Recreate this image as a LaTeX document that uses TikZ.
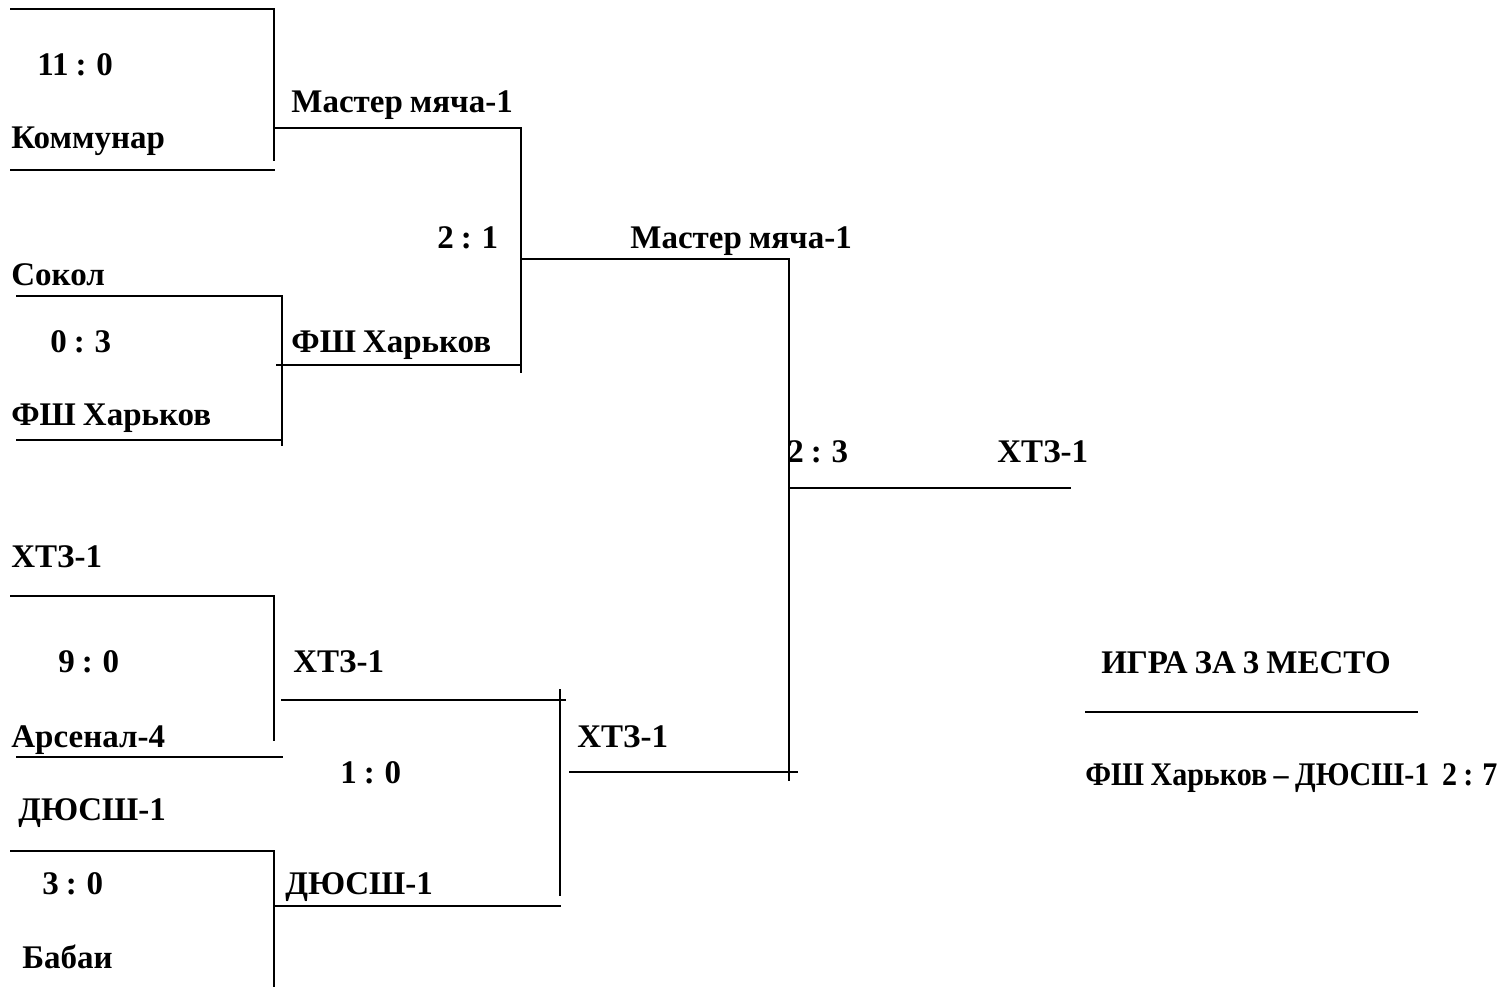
\documentclass[tikz,border=0pt]{standalone}
\usepackage{fontspec}
\setmainfont{Liberation Serif}[WordSpace=0.85]
\begin{document}
\begin{tikzpicture}[x=0.5pt,y=-0.5pt,
  ln/.style={line width=1.1pt, line cap=rect},
  lbl/.style={anchor=base west, inner sep=0pt, font=\fontsize{16.5}{19}\selectfont\bfseries}]
\useasboundingbox[fill=white] (0,0) rectangle (1504,986);
% --- top-left bracket
\draw[ln] (11,9) -- (274,9) -- (274,160);
\draw[ln] (11,170) -- (274,170);
\draw[ln] (274,128) -- (521,128) -- (521,372);
\node[lbl] (s1) at (37,75) {11 : 0};
\node[lbl] (t1) at (11,148) {Коммунар};
\node[lbl] (w1) at (291,112) {Мастер мяча-1};
% --- second bracket
\draw[ln] (17,296) -- (282,296) -- (282,445);
\draw[ln] (17,440) -- (282,440);
\draw[ln] (277,365) -- (521,365);
\node[lbl] (t2) at (11,285) {Сокол};
\node[lbl] (s2) at (50,352) {0 : 3};
\node[lbl] (t3) at (11,425) {ФШ Харьков};
\node[lbl] (w2) at (291,352) {ФШ Харьков};
\node[lbl] (s3) at (437,248) {2 : 1};
% --- semifinal upper
\draw[ln] (521,259) -- (789,259) -- (789,780);
\node[lbl] (w3) at (630,248) {Мастер мяча-1};
% --- final
\draw[ln] (789,488) -- (1070,488);
\node[lbl] (s4) at (787,462) {2 : 3};
\node[lbl] (w4) at (997,462) {ХТЗ-1};
% --- lower brackets
\draw[ln] (11,596) -- (274,596) -- (274,740);
\draw[ln] (17,757) -- (282,757);
\node[lbl] (t4) at (11,567) {ХТЗ-1};
\node[lbl] (s5) at (58,672) {9 : 0};
\node[lbl] (t5) at (11,747) {Арсенал-4};
\node[lbl] (w5) at (293,672) {ХТЗ-1};
\draw[ln] (282,700) -- (565,700);
\draw[ln] (560,690) -- (560,895);
\node[lbl] (s6) at (340,783) {1 : 0};
\draw[ln] (11,851) -- (274,851) -- (274,986);
\draw[ln] (274,906) -- (560,906);
\node[lbl] (t6) at (18,820) {ДЮСШ-1};
\node[lbl] (s7) at (42,894) {3 : 0};
\node[lbl] (t7) at (22,968) {Бабаи};
\node[lbl] (w6) at (285,894) {ДЮСШ-1};
\node[lbl] (w7) at (577,747) {ХТЗ-1};
\draw[ln] (570,772) -- (797,772);
% --- third place
\node[lbl, anchor=base] (h) at (1246,673) {ИГРА ЗА 3 МЕСТО};
\draw[line width=0.9pt] (1085,712) -- (1418,712);
\node[lbl] (g) at (1085,785) {\resizebox{206pt}{\height}{ФШ Харьков – ДЮСШ-1\ \ 2 : 7}};
\end{tikzpicture}
\end{document}
